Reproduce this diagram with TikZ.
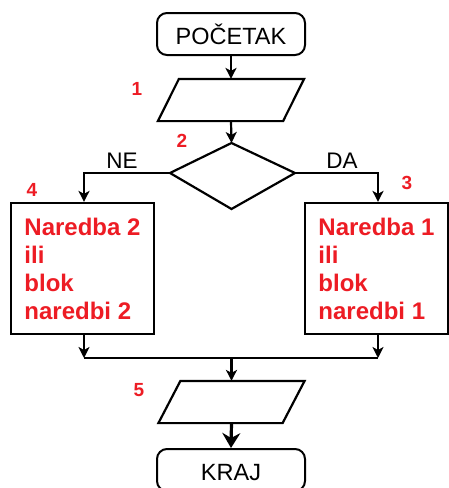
\documentclass[tikz,border=0pt]{standalone}
\usepackage{fontspec}
\setmainfont{Liberation Sans}
\usetikzlibrary{arrows.meta,calc}
\definecolor{lbl}{RGB}{237,28,36}
\begin{document}
\begin{tikzpicture}[x=1pt,y=-1pt,
  line width=2.2pt,
  arr/.style={-{Stealth[length=11pt,width=11pt,inset=3pt]}},
  bigarr/.style={line width=3.2pt,-{Stealth[length=15pt,width=18pt,inset=5pt]}},
  term/.style={draw,line width=2pt,rounded corners=10pt,minimum width=148pt,minimum height=42pt,inner sep=0pt,
    font=\fontsize{23.5}{27}\selectfont,text height=21.5pt,text depth=0pt},
  iobox/.style={minimum width=144pt,minimum height=40pt,inner sep=0pt},
  block/.style={draw,minimum width=143pt,minimum height=131pt,inner sep=0pt,align=left,
    text=lbl,font=\bfseries\fontsize{24}{28}\selectfont},
  num/.style={text=lbl,font=\bfseries\fontsize{19}{22}\selectfont,inner sep=0pt},
  yn/.style={font=\fontsize{22.5}{27}\selectfont,inner sep=0pt,anchor=base}
]
\useasboundingbox (0,0) rectangle (449,488);

% terminals
\node[term] (start) at (231,34) {POČETAK};
\node[term] (end) at (231,470) {KRAJ};

% input/output parallelograms
\node[iobox] (p1) at (231,100) {};
\draw ($(p1.north west)+(21,0)$) -- (p1.north east) -- ($(p1.south east)+(-21,0)$) -- (p1.south west) -- cycle;
\node[iobox] (p5) at (231.5,402) {};
\draw ($(p5.north west)+(22,0)$) -- (p5.north east) -- ($(p5.south east)+(-22,0)$) -- (p5.south west) -- cycle;

% decision
\coordinate (dt) at (231.5,143);
\coordinate (dl) at (170,173);
\coordinate (dr) at (295,173);
\coordinate (db) at (231.5,209);
\draw (dt) -- (dr) -- (db) -- (dl) -- cycle;

% blocks
\node[block] (lb) at (82.5,268.5) {Naredba 2\\ili\\blok\\naredbi 2};
\node[block] (rb) at (376.5,268.5) {Naredba 1\\ili\\blok\\naredbi 1};

% columns and join
\coordinate (L) at (84,0);
\coordinate (R) at (378,0);
\coordinate (jl) at (84,358);
\coordinate (jr) at (378,358);
\coordinate (jc) at (231.5,358);

% connectors
\draw[arr] (start.south) -- (p1.north);
\draw[arr] (p1.south) -- (dt);
\draw[arr] (dl) -| (L |- lb.north);
\draw[arr] (dr) -| (R |- rb.north);
\draw[arr] (L |- lb.south) -- (jl);
\draw[arr] (R |- rb.south) -- (jr);
\draw (jl) -- (jr);
\draw[arr] (jc) -- (p5.north);
\draw[bigarr] (p5.south) -- (end.north);

% branch labels
\node[yn] (ne) at (122,168) {NE};
\node[yn] (da) at (342,168) {DA};

% step numbers
\node[num] (n1) at (137,89) {1};
\node[num] (n2) at (182,141) {2};
\node[num] (n3) at (407,183) {3};
\node[num] (n4) at (32,190) {4};
\node[num] (n5) at (139,390) {5};
\end{tikzpicture}
\end{document}
